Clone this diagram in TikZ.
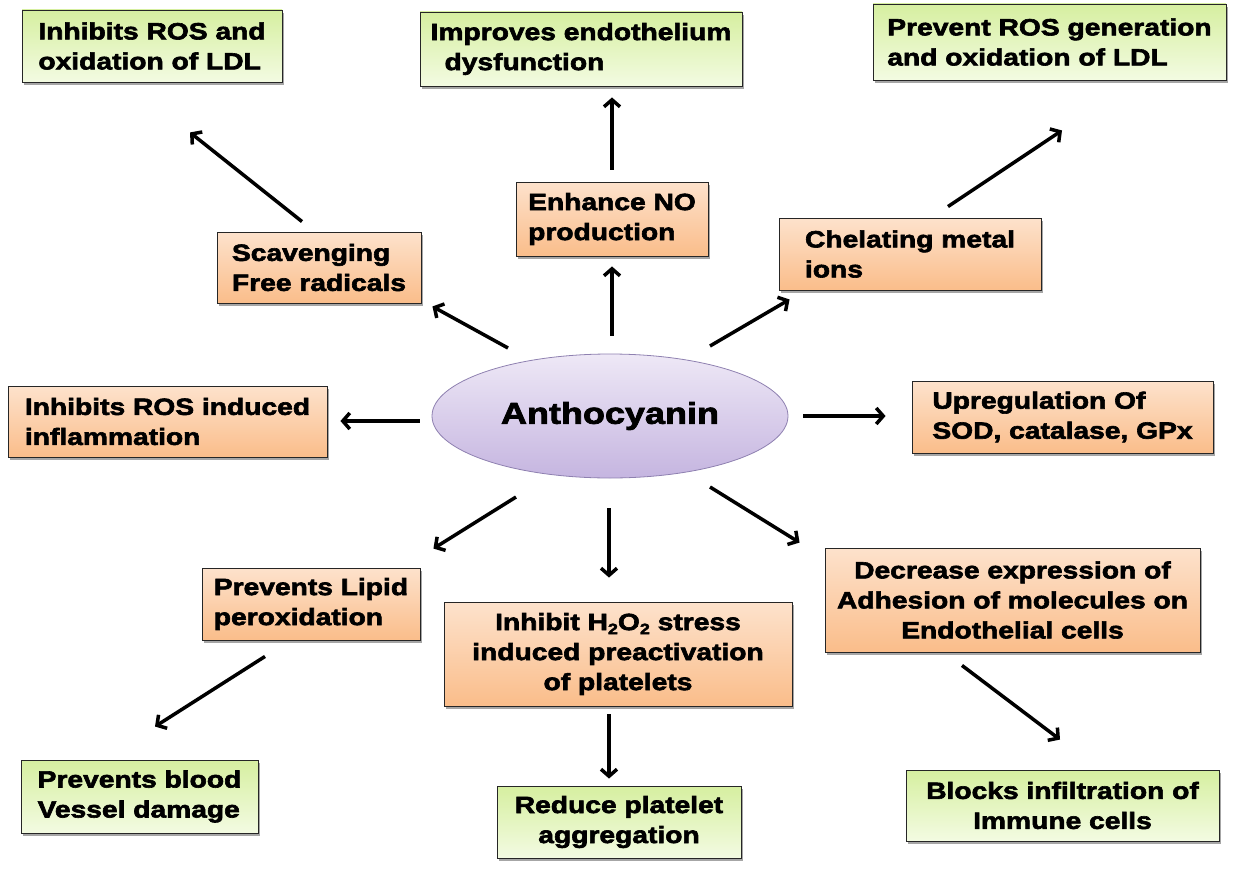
\documentclass[tikz,border=0pt]{standalone}
\usepackage{fontspec}
\newfontfamily\bx{Liberation Sans Bold}[FakeStretch=1.2, FakeBold=2.6]
\usetikzlibrary{shapes.geometric,arrows.meta,shadows,calc}
\definecolor{gtop}{HTML}{D6EFA0}
\definecolor{gbot}{HTML}{F3FBE2}
\definecolor{otop}{HTML}{FDE2CC}
\definecolor{obot}{HTML}{FABD8A}
\definecolor{etop}{HTML}{EEE8F6}
\definecolor{ebot}{HTML}{C5B5E0}
\definecolor{eline}{HTML}{8E80B0}
\tikzset{
  basebox/.style={draw=black!85, line width=0.9pt, rectangle,
    font=\bx\fontsize{23.5}{30}\selectfont, inner sep=4pt,
    drop shadow={shadow xshift=2pt, shadow yshift=-3pt, opacity=0.35, fill=black}},
  gbox/.style={basebox, top color=gtop, bottom color=gbot},
  obox/.style={basebox, top color=otop, bottom color=obot},
  arr/.style={line width=3.5pt, -{Straight Barb[length=7pt,width=16pt]}, black},
}
\begin{document}
\begin{tikzpicture}[x=1pt,y=-1pt]
\useasboundingbox (0,0) rectangle (1255,875);
% top row
\node[gbox, minimum width=260pt, minimum height=72pt, align=left] (inh1) at (152,46) {Inhibits ROS and\\oxidation of LDL};
\node[gbox, minimum width=322pt, minimum height=74pt, align=left] (imp) at (581,49) {Improves endothelium\\\hspace*{14pt}dysfunction};
\node[gbox, minimum width=353pt, minimum height=76pt, align=left] (prev) at (1049.5,42) {Prevent ROS generation\\and oxidation of LDL};
% second row
\node[obox, minimum width=204pt, minimum height=71pt, align=left] (scav) at (319,267.5) {Scavenging\\Free radicals};
\node[obox, minimum width=192pt, minimum height=74pt, align=left] (enh) at (612,219) {Enhance NO\\production};
\node[obox, minimum width=262pt, minimum height=72pt, align=left] (chel) at (910,254) {Chelating metal\\ions};
% middle row
\node[obox, minimum width=319pt, minimum height=71pt, align=left] (infl) at (167.5,421.5) {Inhibits ROS induced\\inflammation};
\node[ellipse, draw=eline, line width=0.8pt, top color=etop, bottom color=ebot,
      minimum width=356pt, minimum height=124pt,
      font=\bx\fontsize{30}{34}\selectfont] (ell) at (610,416) {Anthocyanin};
\node[obox, minimum width=301pt, minimum height=72pt, align=left] (upr) at (1062.5,417) {Upregulation Of\\SOD, catalase, GPx};
% lower row
\node[obox, minimum width=218pt, minimum height=72pt, align=left] (lip) at (311,604) {Prevents Lipid\\peroxidation};
\node[obox, minimum width=348pt, minimum height=104pt, align=center] (h2o) at (618,654)
  {Inhibit H\raisebox{-4pt}{\fontsize{15}{15}\selectfont 2}O\raisebox{-4pt}{\fontsize{15}{15}\selectfont 2} stress\\induced preactivation\\of platelets};
\node[obox, minimum width=375pt, minimum height=104pt, align=center] (dec) at (1012.5,600) {Decrease expression of\\Adhesion of molecules on\\Endothelial cells};
% bottom row
\node[gbox, minimum width=237pt, minimum height=73pt, align=left] (bv) at (139.5,796.5) {Prevents blood\\Vessel damage};
\node[gbox, minimum width=244pt, minimum height=72pt, align=center] (red) at (619,822) {Reduce platelet\\aggregation};
\node[gbox, minimum width=313pt, minimum height=71pt, align=center] (blk) at (1062.5,805.5) {Blocks infiltration of\\Immune cells};
% arrows
\draw[arr] ($(scav.north)+(-17,-10)$) -- ($(inh1.south)+(38,50)$);
\draw[arr] ($(enh.north)+(0,-12)$) -- ($(imp.south)+(31,11)$);
\draw[arr] ($(chel.north)+(38,-11)$) -- ($(prev.south)+(12.5,50)$);
\draw[arr] ($(ell.center)+(-102,-68)$) -- ($(scav.south east)+(11,3)$);
\draw[arr] ($(ell.north)+(2,-18)$) -- ($(enh.south)+(0,10)$);
\draw[arr] ($(ell.center)+(100,-70)$) -- ($(chel.south west)+(11,9)$);
\draw[arr] ($(ell.west)+(-12,5)$) -- ($(infl.east)+(13,-0.5)$);
\draw[arr] ($(ell.east)+(15,0)$) -- ($(upr.west)+(-26,-1)$);
\draw[arr] ($(ell.center)+(-94,81)$) -- ($(lip.north east)+(13,-19)$);
\draw[arr] ($(ell.south)+(-1,30)$) -- ($(h2o.north)+(-9,-24)$);
\draw[arr] ($(ell.center)+(100,71)$) -- ($(dec.north west)+(-25,-5)$);
\draw[arr] ($(lip.south)+(-46,16)$) -- ($(bv.north)+(15.5,-33)$);
\draw[arr] ($(h2o.south)+(-9,8)$) -- ($(red.north)+(-10,-7)$);
\draw[arr] ($(dec.south)+(-50.5,13)$) -- ($(blk.north)+(-2.5,-30)$);
\end{tikzpicture}
\end{document}
